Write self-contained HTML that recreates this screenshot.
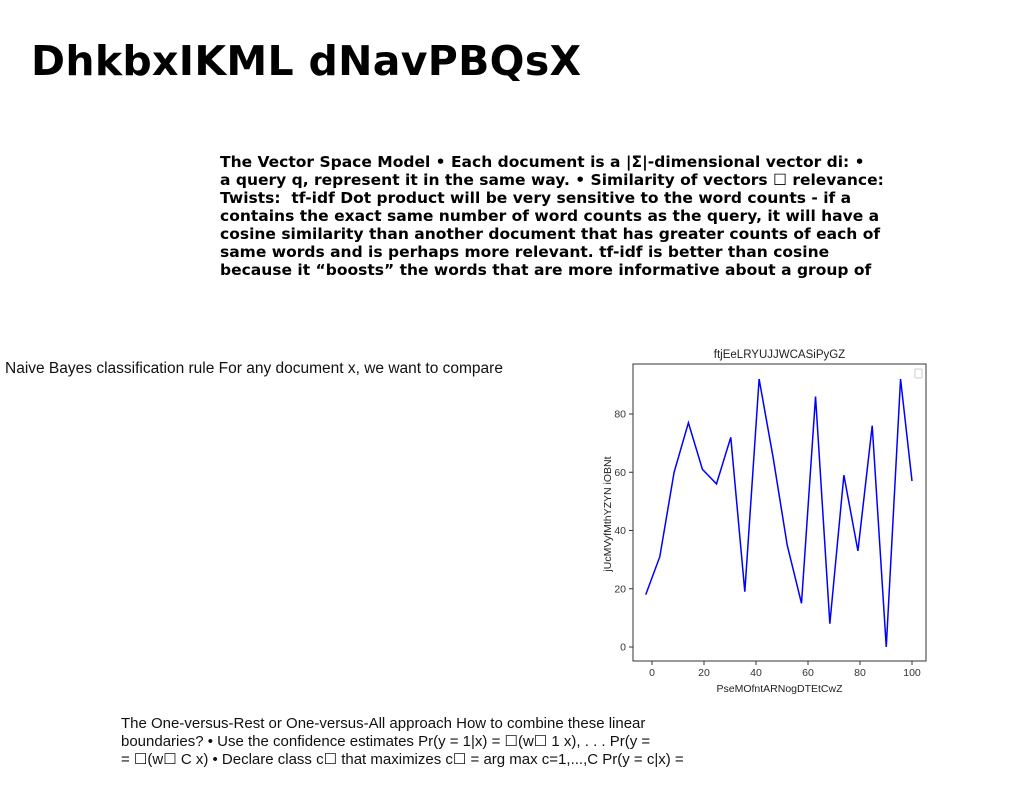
<!DOCTYPE html>
<html><head><meta charset="utf-8"><style>
body{margin:0;width:1024px;height:788px;background:#fff;position:relative;overflow:hidden;font-family:"Liberation Sans",sans-serif}
.t{position:absolute;margin:0;white-space:nowrap}
</style></head><body>
<h1 class="t" style="left:31px;top:37px;font:900 41px 'DejaVu Sans',sans-serif;letter-spacing:0.3px;color:#000">DhkbxIKML dNavPBQsX</h1>
<p class="t" style="left:220px;top:153px;font:bold 15.5px/18px 'DejaVu Sans',sans-serif;color:#000">The Vector Space Model • Each document is a |Σ|-dimensional vector di: •<br>a query q, represent it in the same way. • Similarity of vectors ☐ relevance:<br>Twists:&nbsp; tf-idf Dot product will be very sensitive to the word counts - if a<br>contains the exact same number of word counts as the query, it will have a<br>cosine similarity than another document that has greater counts of each of<br>same words and is perhaps more relevant. tf-idf is better than cosine<br>because it “boosts” the words that are more informative about a group of</p>
<p class="t" style="left:5px;top:360px;font:15.5px 'Liberation Sans',sans-serif;color:#111">Naive Bayes classification rule For any document x, we want to compare</p>
<p class="t" style="left:121px;top:715px;font:15px/18px 'Liberation Sans',sans-serif;color:#111">The One-versus-Rest or One-versus-All approach How to combine these linear<br>boundaries? • Use the confidence estimates Pr(y = 1|x) = ☐(w☐ 1 x), . . . Pr(y =<br>= ☐(w☐ C x) • Declare class c☐ that maximizes c☐ = arg max c=1,...,C Pr(y = c|x) =</p>
<svg id="chart" width="1024" height="788" style="position:absolute;left:0;top:0" font-family="'Liberation Sans',sans-serif"></svg>
<script>
const xVals=[-2.4,3.0,8.5,14,19.4,24.8,30.3,35.7,41.2,46.6,52,57.5,62.9,68.4,73.8,79.2,84.7,90.1,95.6,100];
const yVals=[18,31,60,77,61,56,72,19,92,65,35,15,86,8,59,33,76,0,92,57];
const xTicks=[0,20,40,60,80,100];
const yTicks=[0,20,40,60,80];
const NS="http://www.w3.org/2000/svg";
const svg=document.getElementById('chart');
const L=633,R=926,T=364,B=661;
const sx=v=>652+(v-0)*2.6;
const sy=v=>647-v*2.9125;
function mk(tag,attrs,txt){const e=document.createElementNS(NS,tag);for(const k in attrs)e.setAttribute(k,attrs[k]);if(txt!==undefined)e.textContent=txt;svg.appendChild(e);return e;}
const frame=mk('rect',{x:L,y:T,width:R-L,height:B-T,fill:'none',stroke:'#333','stroke-width':1});


xTicks.forEach(v=>{
 const l=mk('line',{x1:sx(v),x2:sx(v),y1:B,y2:B+4,stroke:'#333'});
 
 
 const t=mk('text',{x:sx(v),y:B+15,'font-size':10.5,'text-anchor':'middle',fill:'#333'},v);
 
 
});
yTicks.forEach(v=>{
 const l=mk('line',{x1:L-4,x2:L,y1:sy(v),y2:sy(v),stroke:'#333'});
 
 
 const t=mk('text',{x:L-7,y:sy(v)+3.5,'font-size':10.5,'text-anchor':'end',fill:'#333'},v);
 
 
});
const pl=mk('polyline',{points:xVals.map((x,i)=>sx(x)+','+sy(yVals[i])).join(' '),fill:'none',stroke:'#0000ff','stroke-width':1.5});


const tt=mk('text',{x:(L+R)/2,y:358,'font-size':11.5,'text-anchor':'middle',fill:'#222'},'ftjEeLRYUJJWCASiPyGZ');


const xt=mk('text',{x:(L+R)/2,y:692,'font-size':10.5,'text-anchor':'middle',fill:'#222'},'PseMOfntARNogDTEtCwZ');


const yt=mk('text',{x:0,y:0,'font-size':10.5,'text-anchor':'middle',fill:'#222',transform:'translate(611,514) rotate(-90)'},'jUcMVyfMthYZYN iOBNt');


const lg=mk('rect',{x:915,y:369,width:7,height:9,fill:'#fff',stroke:'#ccc',rx:1});


</script>
</body></html>
